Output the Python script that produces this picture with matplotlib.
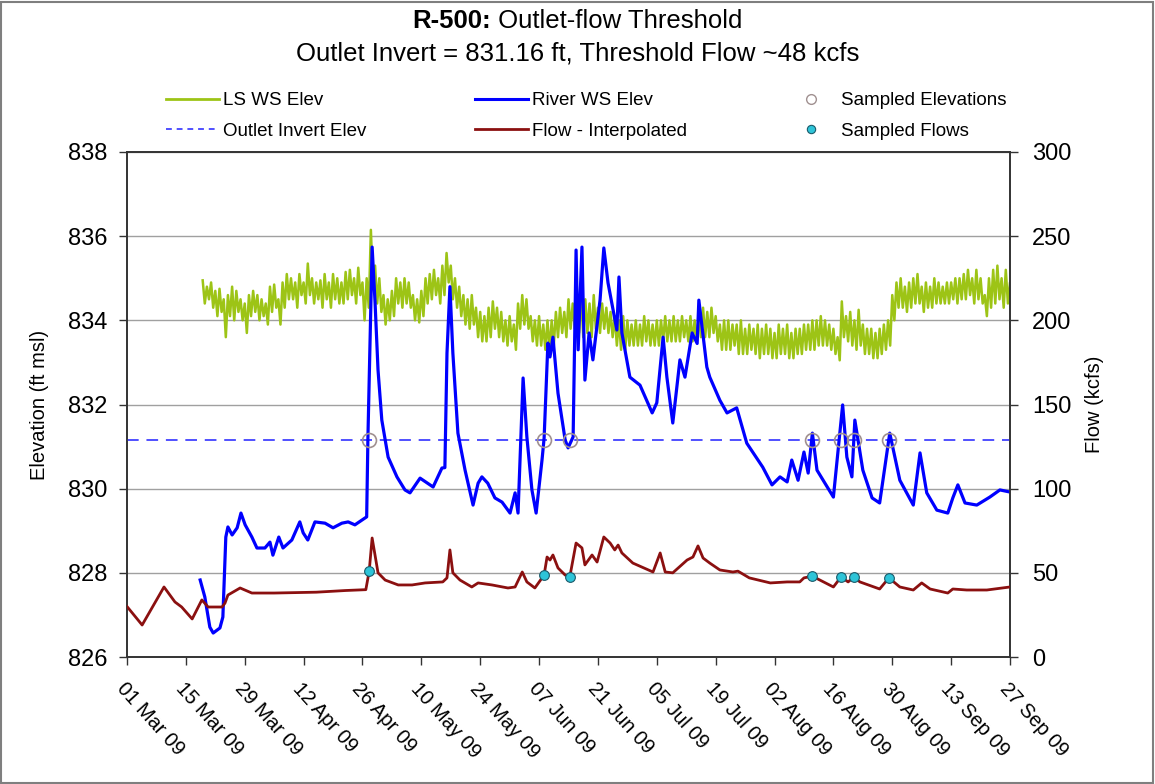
import matplotlib
matplotlib.use('Agg')
import matplotlib.pyplot as plt
from matplotlib.lines import Line2D
from matplotlib.patches import Rectangle
import numpy as np
import pandas as pd

plt.rcParams['font.family'] = ['Liberation Sans', 'DejaVu Sans']

# ---------------- data ----------------
START = pd.Timestamp('2009-03-01')
INVERT = 831.16

# LS WS Elev, twice-daily readings (daily high / daily low) from 19 Mar 09
ls_start = '2009-03-19'
ls_high = [834.95, 834.8, 834.9, 834.7, 834.75, 834.5, 834.6, 834.8, 834.7, 834.5,
           834.4, 834.6, 834.7, 834.6, 834.5, 834.4, 834.8, 834.85, 834.5, 834.9,
           835.1, 835.0, 834.9, 835.1, 834.9, 835.35, 835.0, 834.9, 834.95, 835.1,
           834.9, 835.1, 835.0, 834.9, 835.15, 835.2, 835.0, 835.25, 834.9, 835.0,
           836.15, 835.3, 835.0, 834.6, 834.5, 834.7, 835.0, 834.9, 835.0, 834.9,
           834.6, 834.5, 834.7, 835.0, 835.1, 835.2, 835.0, 835.3, 835.6, 835.3,
           835.0, 834.8, 834.6, 834.5, 834.6, 834.3, 834.2, 834.1, 834.3, 834.45,
           834.3, 834.2, 834.0, 834.1, 833.9, 834.4, 834.6, 834.5, 834.1, 834.0,
           834.1, 833.9, 834.0, 834.0, 834.2, 834.3, 834.2, 834.5, 834.4, 834.3,
           834.6, 834.5, 834.4, 834.6, 834.3, 834.4, 834.3, 834.2, 834.1, 834.0,
           834.1, 834.0, 833.9, 834.0, 833.9, 834.1, 834.0, 833.9, 834.0, 834.0,
           834.1, 834.0, 834.1, 834.0, 834.1, 834.0, 834.1, 834.0, 834.1, 834.3,
           834.2, 834.3, 834.1, 833.9, 834.0, 834.0, 833.9, 833.9, 834.0, 833.8,
           833.9, 833.8, 833.9, 833.8, 833.9, 833.8, 833.7, 833.9, 833.8, 833.9,
           833.7, 833.8, 833.8, 833.9, 833.9, 834.0, 834.0, 834.1, 834.0, 833.9,
           833.8, 833.6, 834.45, 834.1, 834.2, 834.0, 834.25, 833.9, 833.8, 833.8,
           833.7, 833.8, 833.9, 834.0, 834.6, 834.9, 835.0, 834.8, 834.9, 835.0,
           835.1, 834.8, 834.9, 834.8, 835.0, 834.9, 834.8, 834.9, 834.9, 835.0,
           835.0, 835.1, 835.2, 835.0, 835.2, 835.0, 834.6, 835.0, 835.2, 835.3,
           835.0, 835.2, 834.9]
ls_low = [834.4, 834.5, 834.3, 834.1, 834.2, 833.6, 834.1, 834.0, 834.2, 834.0,
          833.7, 834.1, 834.2, 834.0, 834.1, 833.9, 834.2, 834.3, 833.9, 834.3,
          834.5, 834.5, 834.3, 834.6, 834.4, 834.6, 834.4, 834.5, 834.3, 834.5,
          834.3, 834.5, 834.4, 834.4, 834.5, 834.6, 834.4, 834.6, 834.0, 834.3,
          834.8, 834.4, 834.2, 833.9, 834.0, 834.1, 834.4, 834.3, 834.4, 834.3,
          834.0, 833.95, 834.1, 834.4, 834.5, 834.6, 834.4, 834.6, 834.9, 834.5,
          834.3, 834.1, 833.9, 833.8, 833.9, 833.6, 833.5, 833.5, 833.6, 833.8,
          833.6, 833.5, 833.4, 833.5, 833.3, 833.8, 833.9, 833.8, 833.5, 833.4,
          833.4, 833.3, 833.3, 833.4, 833.6, 833.7, 833.6, 833.8, 833.8, 833.7,
          833.6, 833.7, 833.6, 833.8, 833.7, 833.8, 833.7, 833.6, 833.4, 833.3,
          833.3, 833.4, 833.4, 833.4, 833.4, 833.5, 833.4, 833.4, 833.4, 833.5,
          833.5, 833.5, 833.5, 833.5, 833.6, 833.5, 833.5, 833.5, 833.6, 833.6,
          833.6, 833.7, 833.5, 833.3, 833.3, 833.3, 833.4, 833.2, 833.2, 833.2,
          833.3, 833.2, 833.1, 833.2, 833.2, 833.1, 833.1, 833.2, 833.2, 833.1,
          833.1, 833.2, 833.2, 833.3, 833.3, 833.3, 833.4, 833.4, 833.4, 833.3,
          833.2, 833.05, 833.6, 833.5, 833.4, 833.3, 833.4, 833.2, 833.2, 833.1,
          833.1, 833.2, 833.3, 833.4, 834.0, 834.3, 834.3, 834.2, 834.3, 834.4,
          834.4, 834.2, 834.3, 834.3, 834.4, 834.4, 834.4, 834.4, 834.5, 834.4,
          834.5, 834.5, 834.6, 834.4, 834.5, 834.4, 834.1, 834.3, 834.4, 834.5,
          834.3, 834.4, 834.2]

# River WS Elev (days after 01 Mar 09, elevation ft)
river_days = [17.4, 18.5, 19.7, 20.5, 22.1, 22.8, 23.5, 24, 25, 26.2,
              27.1, 28.1, 29.7, 30.9, 32.8, 34, 34.7, 36.1, 37.1, 39.2,
              41.1, 41.9, 43, 44.7, 47.1, 49, 51.1, 52.6, 54.2, 57,
              57.3, 58.3, 59, 59.7, 60.6, 62.1, 64.2, 66.1, 67.3, 69.7,
              72.8, 74.9, 75.6, 76.1, 76.8, 77.5, 78.7, 80.4, 82.3, 83.5,
              84.4, 85.8, 87.5, 89.2, 91.1, 92.3, 93, 94.2, 95.1, 96.3,
              97.3, 98.7, 99.2, 100.1, 100.6, 101.3, 102.5, 104.2, 104.9, 106.1,
              106.8, 107.3, 108.2, 108.9, 109.9, 110.8, 112.5, 113.4, 114.4, 115.6,
              116.5, 117, 117.7, 119.6, 122, 124.9, 126, 127.5, 128.4, 129.8,
              131.5, 132.7, 134.4, 135.6, 136, 137.9, 138.6, 141, 142.7, 145,
              147.4, 151.2, 153.4, 155.3, 157, 158.1, 159.6, 161, 162, 163,
              164.1, 168, 170.2, 171.2, 172.4, 173.1, 175, 177.2, 179, 181.4,
              183.8, 187, 188.6, 190.2, 192.6, 195.2, 196.4, 197.6, 199.3, 202.1,
              205.2, 207.6, 210]
river_elev = [827.83, 827.43, 826.71, 826.57, 826.69, 826.95, 828.85, 829.09, 828.9, 829.07,
              829.42, 829.14, 828.85, 828.59, 828.59, 828.73, 828.42, 828.85, 828.59, 828.78,
              829.21, 828.95, 828.78, 829.21, 829.18, 829.07, 829.18, 829.21, 829.14, 829.33,
              831.23, 835.74, 834.41, 832.82, 831.63, 830.75, 830.28, 829.97, 829.9, 830.25,
              830.04, 830.49, 830.5, 833.22, 834.8, 833.22, 831.32, 830.44, 829.61, 830.13,
              830.28, 830.13, 829.78, 829.68, 829.42, 829.9, 829.42, 832.63, 831.23, 829.97,
              829.42, 830.68, 831.2, 833.46, 833.13, 833.6, 832.27, 831.16, 830.97, 831.23,
              835.67, 833.3, 835.74, 832.58, 833.7, 833.06, 834.48, 835.72, 834.89, 834.25,
              833.77, 835.03, 833.7, 832.65, 832.46, 831.8, 832.04, 833.6, 832.65, 831.56,
              833.06, 832.65, 833.7, 833.45, 834.48, 832.89, 832.65, 832.1, 831.8, 831.92,
              831.08, 830.51, 830.09, 830.28, 830.16, 830.68, 830.2, 830.87, 830.37, 831.32,
              830.44, 829.8, 831.99, 830.75, 830.28, 831.63, 830.44, 829.78, 829.66, 831.32,
              830.2, 829.61, 830.85, 829.9, 829.49, 829.42, 829.78, 830.09, 829.66, 829.61,
              829.8, 829.97, 829.92]

# Flow - Interpolated (days after 01 Mar 09, kcfs)
flow_days = [0, 3.6, 8.8, 11.4, 13, 15.5, 17.8, 19.3, 22.6, 23.3,
             24, 26.9, 29.7, 35, 45, 52, 56.8, 57.6, 58.3, 59.7,
             61.4, 64.5, 67.8, 70.9, 75.1, 76.1, 76.8, 77.5, 79.2, 82,
             83.5, 86.8, 90.6, 92.3, 94, 95.1, 97, 99.2, 99.9, 100.6,
             101.3, 102.5, 104.2, 105.3, 106.8, 108.2, 108.9, 110.6, 111.8, 113.4,
             114.9, 116, 116.8, 117.7, 120.3, 125.1, 126.8, 128, 129.8, 133.2,
             134.6, 135.8, 137, 138.6, 141, 144.1, 145.3, 148, 153, 157,
             160, 161, 163, 168, 169.8, 171.5, 172.9, 174.3, 179, 181.2,
             183.8, 187, 189, 191, 195.2, 196.4, 199.7, 204.5, 210]
flow_kcfs = [30, 19, 41.6, 32.7, 29.7, 22.6, 33.9, 29.7, 29.7, 32,
             36.8, 41, 38, 38, 38.5, 39.5, 40, 51, 70.7, 50,
             45.7, 42.8, 42.8, 44, 44.6, 47, 63.6, 50, 45.7, 41.6,
             44, 42.8, 41, 41.6, 50.5, 44.6, 41, 48.7, 59.4, 57.6,
             60.6, 52.9, 48.7, 47.5, 67.7, 64.8, 54.7, 60.6, 56.4, 71.3,
             67.7, 63.6, 66.5, 61.8, 55.8, 50.5, 61.8, 50.5, 50, 57.6,
             59.4, 66, 58.8, 55.8, 51.7, 50.5, 51, 47, 44, 44.6,
             44.6, 47, 48, 41.6, 47.5, 44.6, 47.5, 44.6, 40.4, 47,
             41.6, 39.8, 44, 40.4, 38, 40.4, 39.8, 39.8, 41.6]

# Sampled points
sample_days = [57.6, 99.2, 105.3, 163, 169.8, 172.9, 181.2]
sample_flows = [51, 48.7, 47.5, 48, 47.5, 47.5, 47]

tick_labels_fmt = '%d %b %y'
x_start, x_end = '2009-03-01', '2009-09-27'

# ---------------- figure ----------------
W, H = 1155, 784
fig = plt.figure(figsize=(W / 100, H / 100), dpi=100)
fig.patches.append(Rectangle((0.001, 0.001), 0.997, 0.997, transform=fig.transFigure,
                             fill=False, edgecolor='#7f7f7f', lw=1.5))

L, R, T, B = 127, 1010, 152, 657
ax = fig.add_axes([L / W, 1 - B / H, (R - L) / W, (B - T) / H])
ax2 = ax.twinx()

def to_dates(days):
    return START + pd.to_timedelta(np.asarray(days, dtype=float), unit='D')

c_green = '#9dc416'
c_blue = '#0000ff'
c_dash = '#5050ff'
c_red = '#8b1010'
c_cyan = '#2ec4d8'

# interleave the twice-daily readings (high in the morning, low in the evening)
ls_base = pd.date_range(ls_start, periods=len(ls_high), freq='D')
ls_times = np.column_stack([ls_base, ls_base + pd.Timedelta(hours=12)]).ravel()
ls_vals = np.column_stack([ls_high, ls_low]).ravel()
ax.plot(pd.to_datetime(ls_times), ls_vals, color=c_green, lw=1.8, zorder=2)
ax.axhline(INVERT, color=c_dash, lw=1.4, ls=(0, (6, 4)), zorder=3)
ax.plot(to_dates(river_days), river_elev, color=c_blue, lw=2.3, zorder=4)
ax.plot(to_dates(sample_days), [INVERT] * len(sample_days), ls='none', marker='o',
        ms=10, mfc='none', mec='#a09090', mew=1.2, zorder=5)

ax2.plot(to_dates(flow_days), flow_kcfs, color=c_red, lw=2.0, zorder=4)
ax2.plot(to_dates(sample_days), sample_flows, ls='none', marker='o', ms=7,
         mfc=c_cyan, mec='#1a5a6a', mew=0.8, zorder=5)

ax.set_xlim(pd.Timestamp(x_start), pd.Timestamp(x_end))
ax.set_ylim(826, 838)
ax2.set_ylim(0, 300)
ax.set_yticks(np.arange(826, 839, 2))
ax2.set_yticks(np.arange(0, 301, 50))
ticks = pd.date_range(x_start, x_end, freq='14D')
ax.set_xticks(ticks)
ax.set_xticklabels([t.strftime(tick_labels_fmt) for t in ticks], rotation=-48,
                   ha='left', va='top', rotation_mode='anchor', fontsize=14.5)
ax.grid(axis='y', color='#a0a0a0', lw=1.0)
ax.set_axisbelow(True)

for a in (ax, ax2):
    a.tick_params(direction='out', length=6, width=1.0, labelsize=17, color='#333333')
    for s in a.spines.values():
        s.set_color('#333333')
        s.set_linewidth(1.2)
ax.tick_params(axis='x', pad=10, labelsize=14.5)
ax.tick_params(axis='y', pad=8)
ax2.tick_params(axis='y', pad=10)

ax.set_ylabel('Elevation (ft msl)', fontsize=14.5, labelpad=14)
ax2.set_ylabel('Flow (kcfs)', fontsize=14.5, labelpad=10)

# ---------------- legend ----------------
leg_kw = dict(frameon=False, fontsize=13.5, handlelength=2.85, handletextpad=0.18,
              labelspacing=0.72, borderpad=0, borderaxespad=0, loc='upper left')
h_ls = Line2D([], [], color=c_green, lw=2)
h_inv = Line2D([], [], color=c_dash, lw=1.4, ls=(0, (3, 2.5)))
h_riv = Line2D([], [], color=c_blue, lw=2.2)
h_flow = Line2D([], [], color=c_red, lw=2)
h_se = Line2D([], [], ls='none', marker='o', ms=7, mfc='none', mec='#a09090', mew=1)
h_sf = Line2D([], [], ls='none', marker='o', ms=6, mfc=c_cyan, mec='#1a5a6a', mew=0.8)
fig.legend([h_ls, h_inv], ['LS WS Elev', 'Outlet Invert Elev'],
           bbox_to_anchor=(166 / W, 1 - 92 / H), **leg_kw)
fig.legend([h_riv, h_flow], ['River WS Elev', 'Flow - Interpolated'],
           bbox_to_anchor=(475 / W, 1 - 92 / H), **leg_kw)
fig.legend([h_se, h_sf], ['Sampled Elevations', 'Sampled Flows'],
           bbox_to_anchor=(784 / W, 1 - 92 / H), **leg_kw)

# ---------------- title ----------------
fig.canvas.draw()
rend = fig.canvas.get_renderer()
t1 = fig.text(0, 1 - 21 / H, 'R-500:', fontsize=18.5, fontweight='bold', va='center', ha='left')
t2 = fig.text(0, 1 - 21 / H, ' Outlet-flow Threshold', fontsize=18.5, va='center', ha='left')
w1 = t1.get_window_extent(rend).width
w2 = t2.get_window_extent(rend).width
x0 = W / 2 - (w1 + w2) / 2
t1.set_x(x0 / W)
t2.set_x((x0 + w1) / W)
fig.text(0.5, 1 - 54 / H, 'Outlet Invert = 831.16 ft, Threshold Flow ~48 kcfs',
         fontsize=18.5, ha='center', va='center')

fig.savefig('out.png', dpi=100)
